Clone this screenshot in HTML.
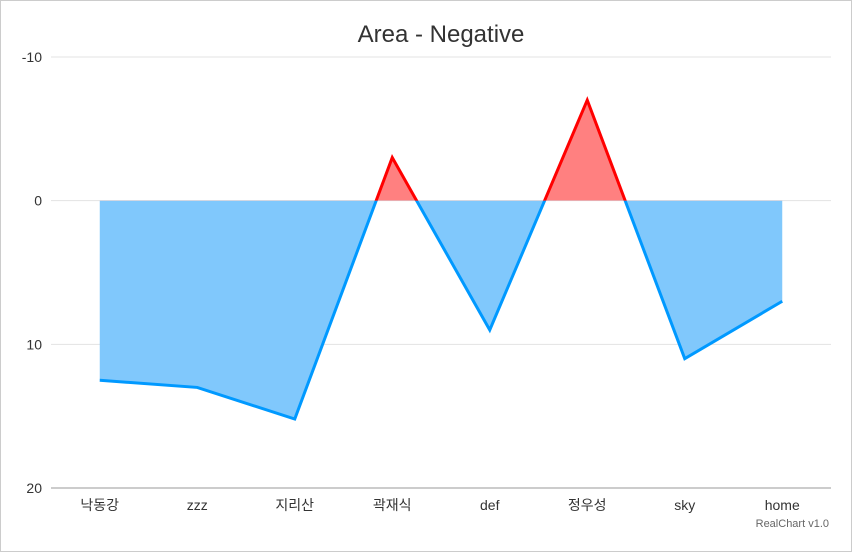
<!DOCTYPE html>
<html><head><meta charset="utf-8"><style>
body{margin:0;background:#fff;font-family:"Liberation Sans","Noto Sans CJK KR",sans-serif}
svg text{font-family:"Liberation Sans","Noto Sans CJK KR",sans-serif}
</style></head><body>
<svg id="chart" width="852" height="552" xmlns="http://www.w3.org/2000/svg">
<rect x="0.5" y="0.5" width="851" height="551" fill="#fff" stroke="#ccc"/>
<text x="441" y="42" text-anchor="middle" font-size="24" fill="#333">Area - Negative</text>
<g id="grid"></g><g id="series"></g><g id="labels"></g>
<text x="829" y="527" text-anchor="end" font-size="11" fill="#666">RealChart v1.0</text>
</svg>
<script>
const categories=["낙동강","zzz","지리산","곽재식","def","정우성","sky","home"];
const values=[12.5,13.0,15.2,-3.0,9.0,-7.0,11.0,7.0];
const yTicks=[-10,0,10,20];
const NS="http://www.w3.org/2000/svg";
const L=51,R=831,T=57,B=488,yMin=-10,yMax=20;
const xs=i=>L+(R-L)/categories.length*(i+0.5);
const ys=v=>T+(v-yMin)/(yMax-yMin)*(B-T);
function mk(tag,at,parent){const e=document.createElementNS(NS,tag);for(const k in at)e.setAttribute(k,at[k]);parent.appendChild(e);return e;}
const grid=document.getElementById('grid'),ser=document.getElementById('series'),lab=document.getElementById('labels');
yTicks.forEach(t=>{
 const y=ys(t);
 const ln=mk('line',{x1:L,x2:R,y1:y,y2:y,stroke:t===yMax?'#bbb':'#e3e3e3','stroke-width':t===yMax?1.5:1},grid);
 
 
 const tx=mk('text',{x:42,y:y+5,'text-anchor':'end','font-size':14,fill:'#333'},lab);
 tx.textContent=t;
 
 
});
categories.forEach((c,i)=>{
 const tx=mk('text',{x:xs(i),y:510,'text-anchor':'middle','font-size':14,fill:'#333'},lab);
 tx.textContent=c;
 
 
});
const z=ys(0);
const defs=mk('defs',{},ser);
const cb=mk('clipPath',{id:'below'},defs);mk('rect',{x:0,y:z,width:852,height:552-z},cb);
const ca=mk('clipPath',{id:'above'},defs);mk('rect',{x:0,y:0,width:852,height:z},ca);
const pts=values.map((v,i)=>xs(i)+','+ys(v));
const line='M'+pts.join('L');
const area=line+'L'+xs(values.length-1)+','+z+'L'+xs(0)+','+z+'Z';
[['below','#80c8fc','#0099ff','positive'],['above','#ff8080','#ff0000','negative']].forEach(([cl,f,s,n])=>{
 const a=mk('path',{d:area,fill:f,stroke:'none','clip-path':'url(#'+cl+')'},ser);
 
 
 const p=mk('path',{d:line,fill:'none',stroke:s,'stroke-width':3,'clip-path':'url(#'+cl+')'},ser);
 
 
});
</script>
</body></html>
